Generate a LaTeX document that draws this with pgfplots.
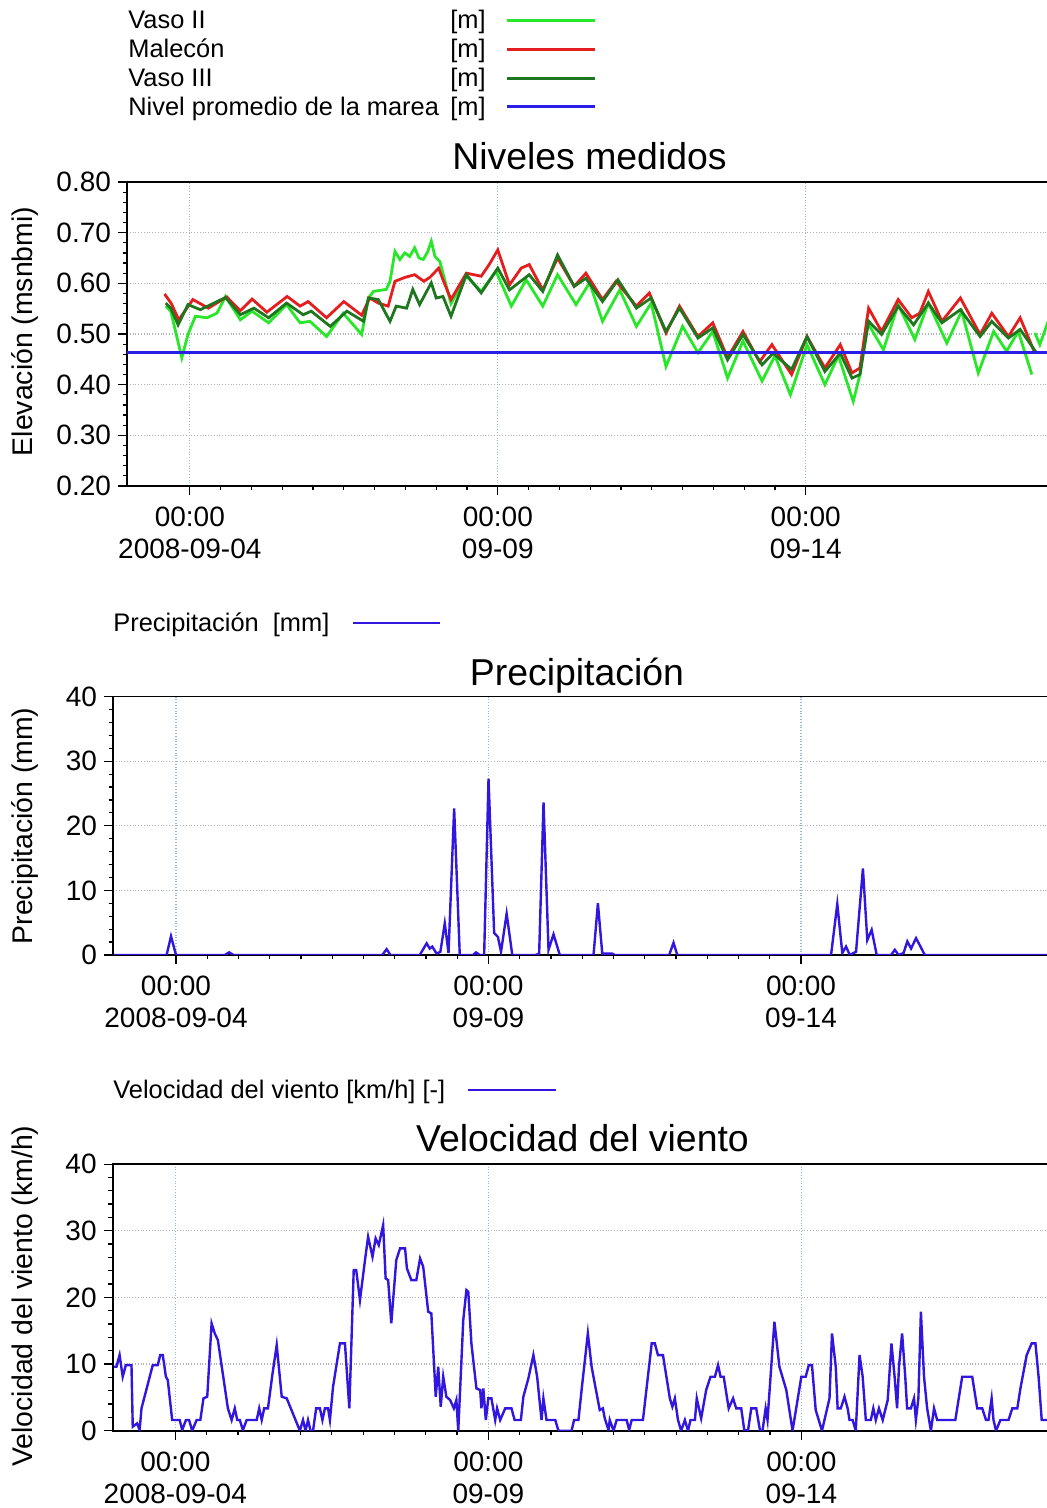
\documentclass[border=0pt]{standalone}
\usepackage{pgfplots}
\pgfplotsset{compat=1.18}
\usepackage{fontspec}
\setmainfont{Liberation Sans}
\definecolor{vasoii}{RGB}{40,230,40}
\definecolor{malecon}{RGB}{228,30,30}
\definecolor{vasoiii}{RGB}{30,118,30}
\definecolor{tide}{RGB}{40,30,230}
\definecolor{serie}{RGB}{48,22,222}
\definecolor{xgrid}{RGB}{150,185,210}
\definecolor{ygrid}{RGB}{175,180,185}
\pgfplotsset{
  myaxis/.style={
    scale only axis,
    axis line style={line width=0.9pt},
    tick align=outside, xtick pos=left, ytick pos=left,
    major tick length=4.5pt, minor tick length=2.2pt,
    tick style={black, line width=0.6pt},
    tick label style={font=\fontsize{14}{16}\selectfont},
    /pgf/number format/assume math mode=true,
    xmajorgrids, ymajorgrids,
    x grid style={densely dotted, color=xgrid, line width=0.6pt},
    y grid style={densely dotted, color=ygrid, line width=0.6pt},
    xtick={0,5,10},
    xticklabels={{00:00\\2008-09-04},{00:00\\09-09},{00:00\\09-14}},
    xticklabel style={align=center, yshift=-2.5pt},
    minor x tick num=9,
    minor y tick num=4,
    clip=true,
  }
}
\begin{document}
\begin{tikzpicture}[x=1pt,y=1pt]
% ---------- legend 1
\begin{scope}[every node/.style={inner sep=0pt, font=\fontsize{12.7}{14}\selectfont}]
\node[anchor=base west] at (64,739.75) {Vaso II};
\node[anchor=base east] at (243,739.75) {[m]};
\draw[vasoii, line width=1.3pt] (253.5,743.7) -- (297.5,743.7);
\node[anchor=base west] at (64,725.25) {Malecón};
\node[anchor=base east] at (243,725.25) {[m]};
\draw[malecon, line width=1.3pt] (253.5,729.3) -- (297.5,729.3);
\node[anchor=base west] at (64,710.75) {Vaso III};
\node[anchor=base east] at (243,710.75) {[m]};
\draw[vasoiii, line width=1.3pt] (253.5,714.7) -- (297.5,714.7);
\node[anchor=base west] at (64,696.25) {Nivel promedio de la marea};
\node[anchor=base east] at (243,696.25) {[m]};
\draw[tide, line width=1.3pt] (253.5,700.7) -- (297.5,700.7);
% legend 2
\node[anchor=base west] at (56.5,438) {Precipitación\ \ [mm]};
\draw[serie, line width=1.3pt] (176.5,442.5) -- (220,442.5);
% legend 3
\node[anchor=base west] at (56.5,204.5) {Velocidad del viento [km/h] [-]};
\draw[serie, line width=1.3pt] (234,209) -- (278,209);
\end{scope}
% titles
\begin{scope}[every node/.style={inner sep=0pt, font=\fontsize{18.7}{20}\selectfont}]
\node[anchor=base] at (294.75,669) {Niveles medidos};
\node[anchor=base] at (288.5,411) {Precipitación};
\node[anchor=base] at (291.25,178) {Velocidad del viento};
\end{scope}
% y labels
\begin{scope}[every node/.style={inner sep=0pt, rotate=90, font=\fontsize{14.2}{16}\selectfont}]
\node at (12.5,588.25) {Elevación (msnbmi)};
\node at (12.5,341) {Precipitación (mm)};
\node at (12.5,106) {Velocidad del viento (km/h)};
\end{scope}

% ---------- panel 1
\begin{axis}[myaxis, at={(63.5pt,511pt)}, anchor=south west,
  width=471.2pt, height=152pt,
  xmin=-1.02, xmax=14.28, ymin=0.2, ymax=0.8,
  ytick={0.2,0.3,...,0.81},
  yticklabel style={/pgf/number format/.cd, fixed, fixed zerofill, precision=2},
  unbounded coords=jump]
\addplot[vasoii, line width=1.4pt] coordinates {
(-0.39,0.555) (-0.31,0.545) (-0.13,0.453) (-0.03,0.499) (0.09,0.535) (0.28,0.532)
(0.44,0.541) (0.58,0.574) (0.82,0.528) (1.01,0.545) (1.28,0.522) (1.57,0.558)
(1.79,0.522) (1.95,0.525) (2.22,0.495) (2.49,0.541) (2.79,0.499) (2.90,0.571)
(2.98,0.584) (3.19,0.588) (3.25,0.604) (3.33,0.663) (3.41,0.647) (3.49,0.660)
(3.57,0.653) (3.65,0.670) (3.72,0.650) (3.79,0.647) (3.86,0.662) (3.92,0.683)
(3.98,0.653) (4.06,0.643) (4.24,0.560) (4.49,0.614) (4.73,0.584) (4.97,0.624)
(5.22,0.555) (5.46,0.607) (5.73,0.555) (5.97,0.617) (6.27,0.558) (6.49,0.601)
(6.70,0.525) (6.98,0.587) (7.25,0.515) (7.49,0.561) (7.73,0.436) (8.00,0.515)
(8.25,0.463) (8.49,0.505) (8.73,0.413) (8.98,0.486) (9.29,0.407) (9.50,0.457)
(9.75,0.380) (10.02,0.479) (10.31,0.400) (10.53,0.457) (10.77,0.367) (10.88,0.420)
(10.99,0.525) (11.26,0.469) (11.50,0.558) (11.77,0.489) (11.99,0.561) (12.29,0.482)
(12.53,0.545) (12.80,0.423) (13.05,0.505) (13.26,0.466) (13.45,0.505) (13.67,0.420)
(13.695,nan)
(13.72,0.502) (13.80,0.479) (13.95,0.530)
};
\addplot[malecon, line width=1.4pt] coordinates {
(-0.41,0.579) (-0.30,0.560) (-0.18,0.528) (0.05,0.568) (0.30,0.551) (0.60,0.573)
(0.82,0.546) (1.01,0.569) (1.25,0.543) (1.58,0.574) (1.79,0.555) (1.92,0.564)
(2.22,0.532) (2.50,0.564) (2.79,0.537) (2.92,0.571) (3.06,0.561) (3.22,0.555)
(3.33,0.604) (3.50,0.612) (3.65,0.617) (3.80,0.604) (3.90,0.612) (4.04,0.630)
(4.12,0.604) (4.24,0.568) (4.49,0.620) (4.73,0.614) (4.86,0.637) (5.00,0.666)
(5.19,0.597) (5.38,0.630) (5.51,0.637) (5.73,0.587) (5.97,0.650) (6.24,0.594)
(6.43,0.620) (6.70,0.568) (6.92,0.604) (7.25,0.555) (7.46,0.581) (7.73,0.502)
(7.95,0.555) (8.25,0.495) (8.49,0.522) (8.73,0.453) (8.98,0.505) (9.25,0.445)
(9.45,0.479) (9.77,0.420) (10.02,0.495) (10.31,0.433) (10.56,0.479) (10.75,0.423)
(10.88,0.433) (11.02,0.551) (11.23,0.505) (11.50,0.568) (11.72,0.532) (11.85,0.541)
(11.99,0.584) (12.21,0.525) (12.51,0.571) (12.83,0.499) (13.02,0.541) (13.29,0.495)
(13.48,0.532) (13.72,0.462)
};
\addplot[vasoiii, line width=1.4pt] coordinates {
(-0.39,0.561) (-0.31,0.551) (-0.19,0.518) (-0.03,0.558) (0.17,0.548) (0.58,0.572)
(0.82,0.538) (1.04,0.551) (1.28,0.532) (1.57,0.561) (1.84,0.538) (1.97,0.545)
(2.28,0.515) (2.55,0.545) (2.82,0.525) (2.90,0.571) (3.06,0.568) (3.25,0.525)
(3.35,0.555) (3.52,0.551) (3.62,0.588) (3.73,0.558) (3.92,0.601) (4.00,0.571)
(4.11,0.574) (4.24,0.535) (4.49,0.617) (4.73,0.581) (5.00,0.630) (5.19,0.587)
(5.51,0.617) (5.73,0.584) (5.97,0.656) (6.24,0.594) (6.43,0.610) (6.70,0.564)
(6.95,0.607) (7.25,0.551) (7.49,0.571) (7.73,0.505) (7.95,0.551) (8.25,0.492)
(8.49,0.512) (8.73,0.449) (8.98,0.499) (9.29,0.439) (9.47,0.462) (9.77,0.430)
(10.02,0.495) (10.31,0.426) (10.56,0.462) (10.75,0.413) (10.88,0.420) (11.02,0.525)
(11.23,0.499) (11.50,0.555) (11.75,0.518) (11.99,0.561) (12.21,0.522) (12.51,0.548)
(12.83,0.495) (13.02,0.525) (13.29,0.492) (13.48,0.509) (13.75,0.462)
};
\addplot[tide, line width=1.4pt] coordinates {(-1.02,0.463) (14.28,0.463)};
\end{axis}

% ---------- panel 2
\begin{axis}[myaxis, at={(56.5pt,276.5pt)}, anchor=south west,
  width=478.4pt, height=129.2pt,
  xmin=-1.008, xmax=14.30, ymin=0, ymax=40,
  ytick={0,10,20,30,40}]
\addplot[serie, line width=1.2pt] coordinates {
(-1.0,0) (-0.15,0) (-0.08,2.9) (0.0,0) (0.78,0) (0.85,0.4) (0.92,0)
(3.30,0) (3.37,0.9) (3.43,0) (3.90,0) (4.01,1.8) (4.06,1.0) (4.10,1.3)
(4.17,0.2) (4.23,0.5) (4.30,4.9) (4.36,0.3) (4.45,22.7) (4.54,0) (4.75,0)
(4.80,0.4) (4.86,0) (4.93,0) (5.00,27.3) (5.09,3.4) (5.15,2.8) (5.20,0.5)
(5.29,6.4) (5.38,0) (5.75,0) (5.81,0.2) (5.88,23.6) (5.96,0.8) (6.04,3.2)
(6.14,0) (6.68,0) (6.75,8.0) (6.82,0.2) (6.98,0.2) (7.02,0) (7.89,0)
(7.96,1.9) (8.02,0) (10.48,0) (10.58,7.9) (10.66,0.3) (10.72,1.3) (10.78,0)
(10.88,0.5) (10.99,13.4) (11.06,2.3) (11.13,3.9) (11.21,0) (11.44,0)
(11.50,0.8) (11.56,0) (11.64,0.3) (11.70,2.1) (11.76,1.0) (11.84,2.6)
(11.90,1.5) (11.98,0) (14.5,0)
};
\end{axis}

% ---------- panel 3
\begin{axis}[myaxis, at={(56.35pt,38.65pt)}, anchor=south west,
  width=478.9pt, height=133.3pt,
  xmin=-1.0, xmax=14.3, ymin=0, ymax=40,
  ytick={0,10,20,30,40}]
\addplot[serie, line width=1.2pt] coordinates {
(-0.98,9.6) (-0.94,9.6) (-0.89,11.35) (-0.84,8.1) (-0.79,9.85) (-0.70,9.85)
(-0.68,0.6) (-0.61,1.1) (-0.57,0.1) (-0.54,3.35) (-0.36,9.85) (-0.28,9.85)
(-0.24,11.35) (-0.20,11.35) (-0.15,8.1) (-0.12,7.6) (-0.05,1.6) (0.07,1.6)
(0.11,0.1) (0.17,1.6) (0.22,1.6) (0.27,0) (0.34,1.6) (0.40,1.6) (0.45,4.85)
(0.51,5.1) (0.58,16.1) (0.63,14.6) (0.68,13.6) (0.84,3.35) (0.90,1.6)
(0.95,3.35) (0.99,1.6) (1.03,1.6) (1.08,0.1) (1.14,1.6) (1.30,1.6) (1.34,3.35)
(1.38,1.6) (1.42,3.35) (1.48,3.35) (1.55,8.35) (1.62,12.85) (1.70,5.1)
(1.78,4.85) (1.99,0) (2.04,1.6) (2.08,0) (2.12,1.6) (2.16,0) (2.20,0)
(2.25,3.35) (2.31,3.35) (2.35,1.6) (2.39,3.35) (2.44,3.35) (2.47,1.6)
(2.52,6.6) (2.63,13.1) (2.71,13.1) (2.78,3.35) (2.85,24.1) (2.89,24.1)
(2.95,19.6) (3.03,25.6) (3.08,29.1) (3.15,26.1) (3.20,28.85) (3.25,27.85)
(3.32,30.85) (3.36,22.85) (3.40,22.6) (3.45,16.1) (3.53,25.6) (3.59,27.35)
(3.67,27.35) (3.70,24.35) (3.77,22.6) (3.85,22.6) (3.91,25.85) (3.96,24.6)
(4.04,17.85) (4.09,17.6) (4.16,5.1) (4.20,9.6) (4.24,3.6) (4.28,8.1)
(4.33,5.1) (4.39,4.6) (4.45,3.35) (4.49,4.6) (4.52,0) (4.60,16.6) (4.65,21.1)
(4.68,20.85) (4.73,13.1) (4.81,6.35) (4.87,6.1) (4.89,3.35) (4.92,6.35)
(4.96,1.6) (5.00,4.85) (5.05,4.85) (5.11,1.6) (5.14,3.35) (5.19,1.6)
(5.27,3.35) (5.37,3.35) (5.42,1.6) (5.52,1.6) (5.56,5.1) (5.64,7.85)
(5.72,11.35) (5.78,8.1) (5.85,1.6) (5.88,4.85) (5.93,1.6) (6.07,1.6)
(6.12,0) (6.33,0) (6.37,1.6) (6.44,1.6) (6.49,6.1) (6.59,14.6) (6.65,9.6)
(6.73,5.6) (6.78,3.1) (6.83,3.35) (6.86,1.85) (6.92,0.1) (6.94,1.6) (7.00,0)
(7.05,1.6) (7.21,1.6) (7.25,0.1) (7.29,1.6) (7.47,1.6) (7.61,13.1) (7.66,13.1)
(7.71,11.35) (7.79,11.35) (7.90,4.85) (7.94,3.6) (7.98,4.85) (8.03,1.6)
(8.08,0) (8.14,1.6) (8.19,0) (8.23,1.6) (8.30,1.6) (8.33,4.85) (8.40,1.85)
(8.48,6.1) (8.55,8.1) (8.62,8.1) (8.67,9.85) (8.71,8.1) (8.76,8.1) (8.84,3.35)
(8.91,4.85) (8.96,3.35) (9.04,3.35) (9.09,0) (9.15,0.1) (9.20,3.35) (9.28,3.35)
(9.34,0) (9.38,0) (9.43,3.35) (9.46,1.6) (9.57,16.35) (9.65,9.6) (9.76,6.1)
(9.86,0) (10.00,8.1) (10.07,8.1) (10.12,9.85) (10.17,9.85) (10.23,3.1)
(10.33,0) (10.45,4.85) (10.49,14.6) (10.55,9.6) (10.58,3.35) (10.63,3.35)
(10.69,5.1) (10.74,3.35) (10.77,1.6) (10.82,1.6) (10.87,0) (10.93,11.35)
(10.98,8.1) (11.03,1.6) (11.11,1.6) (11.15,3.35) (11.19,1.6) (11.24,3.35)
(11.30,1.6) (11.38,4.6) (11.44,13.1) (11.49,8.1) (11.53,3.35) (11.56,9.6)
(11.61,14.6) (11.66,8.1) (11.69,3.35) (11.75,3.35) (11.80,4.85) (11.83,1.6)
(11.87,4.85) (11.91,17.85) (11.96,8.1) (12.01,3.35) (12.07,0) (12.12,3.35)
(12.17,1.6) (12.46,1.6) (12.57,8.1) (12.73,8.1) (12.81,3.35) (12.89,3.35)
(12.95,1.6) (12.99,1.6) (13.04,4.85) (13.07,1.6) (13.11,0) (13.18,1.6)
(13.31,1.6) (13.37,3.35) (13.45,3.35) (13.50,6.35) (13.60,11.35) (13.68,13.1)
(13.74,13.1) (13.79,8.1) (13.84,1.6) (13.95,1.6)
};
\end{axis}
\pgfresetboundingbox
\useasboundingbox (0,0) rectangle (523.5,754);
\end{tikzpicture}
\end{document}
